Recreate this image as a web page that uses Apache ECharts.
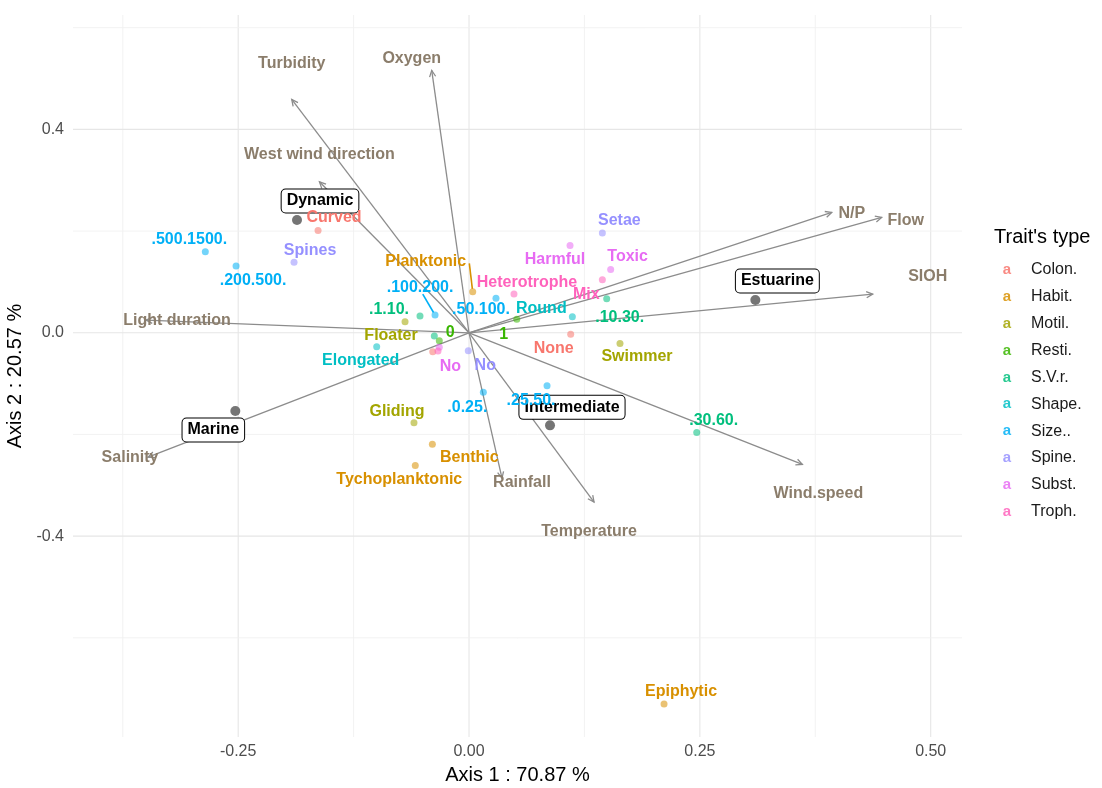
<!DOCTYPE html>
<html>
<head>
<meta charset="utf-8">
<script src="https://cdn.jsdelivr.net/npm/echarts@6/dist/echarts.min.js"></script>
<style>
  html, body { margin: 0; padding: 0; background: #ffffff; }
  #chart { width: 1102px; height: 788px; }
</style>
</head>
<body>
<div id="chart"></div>
<script>
// ---- Data -----------------------------------------------------------------

// Environmental variables: arrow tips on the first two axes
const envNames = ['Turbidity', 'Oxygen', 'West wind direction', 'N/P', 'Flow', 'SIOH',
  'Light duration', 'Salinity', 'Rainfall', 'Temperature', 'Wind.speed'];
const envAxis1 = [-0.192, -0.0404, -0.162, 0.3928, 0.4469, 0.4372, -0.3498, -0.3476, 0.0357, 0.1354, 0.361];
const envAxis2 = [0.459, 0.516, 0.297, 0.2368, 0.227, 0.0761, 0.025, -0.2445, -0.2858, -0.3329, -0.2589];

// Sites (habitat groups)
const siteNames = ['Dynamic', 'Estuarine', 'Marine', 'Intermediate'];
const siteAxis1 = [-0.1863, 0.3101, -0.2531, 0.0877];
const siteAxis2 = [0.2217, 0.0643, -0.154, -0.1821];

// Trait modalities
const traitTypes = ['Colon.', 'Habit.', 'Motil.', 'Resti.', 'S.V.r.', 'Shape.', 'Size..', 'Spine.', 'Subst.', 'Troph.'];
const traitNames = [
  'Curved', 'None', '',
  'Planktonic', 'Benthic', 'Tychoplanktonic', 'Epiphytic',
  'Floater', 'Gliding', 'Swimmer',
  '0', '1',
  '.1.10.', '.10.30.', '.30.60.', '',
  'Elongated', 'Round',
  '.500.1500.', '.200.500.', '.100.200.', '.50.100.', '.25.50.', '.0.25.',
  'Setae', 'Spines', 'No',
  'Harmful', 'Toxic', 'No',
  'Heterotrophe', 'Mix', ''
];
const traitType = [
  'Colon.', 'Colon.', 'Colon.',
  'Habit.', 'Habit.', 'Habit.', 'Habit.',
  'Motil.', 'Motil.', 'Motil.',
  'Resti.', 'Resti.',
  'S.V.r.', 'S.V.r.', 'S.V.r.', 'S.V.r.',
  'Shape.', 'Shape.',
  'Size..', 'Size..', 'Size..', 'Size..', 'Size..', 'Size..',
  'Spine.', 'Spine.', 'Spine.',
  'Subst.', 'Subst.', 'Subst.',
  'Troph.', 'Troph.', 'Troph.'
];
const traitAxis1 = [
  -0.1635, 0.1101, -0.0393,
  0.004, -0.0397, -0.0582, 0.2112,
  -0.0693, -0.0596, 0.1635,
  -0.0322, 0.0517,
  -0.0531, 0.1491, 0.2466, -0.0376,
  -0.1, 0.1119,
  -0.2856, -0.2523, -0.0368, 0.0292, 0.0845, 0.0155,
  0.1444, -0.1895, -0.0008,
  0.1094, 0.1534, -0.0322,
  0.0487, 0.1444, -0.0336
];
const traitAxis2 = [
  0.2012, -0.0031, -0.0374,
  0.0806, -0.219, -0.2608, -0.7303,
  0.0216, -0.177, -0.0209,
  -0.0157, 0.0264,
  0.0328, 0.0669, -0.1959, -0.0065,
  -0.0275, 0.0315,
  0.1593, 0.1312, 0.0348, 0.0677, -0.1042, -0.1172,
  0.1961, 0.1385, -0.0354,
  0.1719, 0.1247, -0.0287,
  0.0761, 0.1043, -0.0358
];

// Axis ticks and grid
const xTickValues = [-0.25, 0, 0.25, 0.5];
const xMinorValues = [-0.375, -0.125, 0.125, 0.375];
const yTickValues = [-0.4, 0, 0.4];
const yMinorValues = [-0.6, -0.2, 0.2, 0.6];
const xTitle = 'Axis 1 : 70.87 %';
const yTitle = 'Axis 2 : 20.57 %';
const legendTitle = "Trait's type";

// ---- Styling & label layout --------------------------------------------------

const FONT = '"Liberation Sans", Arial, Helvetica, sans-serif';
const typeColors = ['#F8766D', '#D89000', '#A3A500', '#39B600', '#00BF7D',
  '#00BFC4', '#00B0F6', '#9590FF', '#E76BF3', '#FF62BC'];
const colorOf = t => typeColors[traitTypes.indexOf(t)];
const envTextColor = '#8b7d6b';
const arrowColor = '#8c8c8c';

// Repelled label offsets in pixels (label centre relative to its point)
const traitLabelShift = [
  [16, -13], [-17, 14], null,
  [-47, -30], [37, 13], [-16, 14], [17, -13],
  [-14, 14], [-17, -11], [17, 13],
  [11, -8], [-13, 15],
  [-31, -7], [13, 19], [17, -12], null,
  [-16, 14], [-31, -8],
  [-16, -12], [17, 15], [-15, -27], [-15, 11], [-16, 15], [-16, 15],
  [17, -12], [16, -12], [17, 15],
  [-15, 14], [17, -13], [11, 19],
  [13, -11], [-16, 15], null
];
// Leader segments (start, relative to the point) for labels pushed far away
const traitLeader = { 3: [-3.4, -28.4], 20: [-12.3, -21] };
const envLabelShift = [[0, -36], [-20, -12], [0, -27], [20, 1], [24, 3], [55, -17],
  [31, 1], [-18, 0], [20, 4], [-5, 30], [16, 29]];
const siteLabelShift = [[23, -19], [22, -19], [-22, 19], [22, -18]];

// ---- Series -------------------------------------------------------------------

const gridData = [];
xTickValues.forEach(v => gridData.push([v, 0, 1, 0]));
xMinorValues.forEach(v => gridData.push([v, 0, 0, 0]));
yTickValues.forEach(v => gridData.push([0, v, 1, 1]));
yMinorValues.forEach(v => gridData.push([0, v, 0, 1]));

const gridSeries = {
  type: 'custom', silent: true, z: 1, clip: false,
  data: gridData,
  renderItem(params, api) {
    const cs = params.coordSys;
    const isY = api.value(3) === 1;
    const major = api.value(2) === 1;
    const style = { stroke: major ? '#e6e6e6' : '#f0f0f0', lineWidth: major ? 1.1 : 0.9 };
    if (isY) {
      const py = api.coord([0, api.value(1)])[1];
      return { type: 'line', shape: { x1: cs.x, y1: py, x2: cs.x + cs.width, y2: py }, style };
    }
    const px = api.coord([api.value(0), 0])[0];
    return { type: 'line', shape: { x1: px, y1: cs.y, x2: px, y2: cs.y + cs.height }, style };
  }
};

const arrowSeries = {
  type: 'custom', silent: true, z: 2, clip: false,
  data: envNames.map((n, i) => [envAxis1[i], envAxis2[i], i]),
  renderItem(params, api) {
    const p0 = api.coord([0, 0]);
    const p1 = api.coord([api.value(0), api.value(1)]);
    const ang = Math.atan2(p1[1] - p0[1], p1[0] - p0[0]);
    const L = 7, a = Math.PI / 7;
    const h1 = [p1[0] - L * Math.cos(ang - a), p1[1] - L * Math.sin(ang - a)];
    const h2 = [p1[0] - L * Math.cos(ang + a), p1[1] - L * Math.sin(ang + a)];
    const st = { stroke: arrowColor, lineWidth: 1.3, fill: null };
    return {
      type: 'group',
      children: [
        { type: 'line', shape: { x1: p0[0], y1: p0[1], x2: p1[0], y2: p1[1] }, style: st },
        { type: 'polyline', shape: { points: [h1, p1, h2] }, style: st }
      ]
    };
  }
};

const envLabelSeries = {
  type: 'custom', silent: true, z: 4, clip: false,
  data: envNames.map((n, i) => [envAxis1[i], envAxis2[i], i]),
  renderItem(params, api) {
    const i = api.value(2);
    const p = api.coord([api.value(0), api.value(1)]);
    const s = envLabelShift[i];
    return {
      type: 'text',
      style: {
        text: envNames[i], x: p[0] + s[0], y: p[1] + s[1],
        fill: envTextColor, font: 'bold 16px ' + FONT,
        align: 'center', verticalAlign: 'middle'
      }
    };
  }
};

const traitPointSeries = traitTypes.map(t => ({
  type: 'scatter', name: t, z: 3, silent: true,
  symbol: 'circle', symbolSize: 7,
  itemStyle: { color: colorOf(t), opacity: 0.55 },
  data: traitNames.map((n, i) => i).filter(i => traitType[i] === t)
    .map(i => [traitAxis1[i], traitAxis2[i]])
}));

// Site boxes sit under the trait labels
const siteLabelSeries = {
  type: 'custom', silent: true, z: 5, clip: false,
  data: siteNames.map((n, i) => [siteAxis1[i], siteAxis2[i], i]),
  renderItem(params, api) {
    const i = api.value(2);
    const p = api.coord([api.value(0), api.value(1)]);
    const s = siteLabelShift[i];
    return {
      type: 'text',
      style: {
        text: siteNames[i], x: p[0] + s[0], y: p[1] + s[1],
        fill: '#000000', font: 'bold 16px ' + FONT,
        align: 'center', verticalAlign: 'middle',
        backgroundColor: '#ffffff', borderColor: '#000000', borderWidth: 1,
        borderRadius: 4, padding: [4, 5, 3, 5]
      }
    };
  }
};

const traitLabelSeries = {
  type: 'custom', silent: true, z: 6, clip: false,
  data: traitNames.map((n, i) => [traitAxis1[i], traitAxis2[i], i]),
  renderItem(params, api) {
    const i = api.value(2);
    const s = traitLabelShift[i];
    if (!traitNames[i] || !s) return null;
    const p = api.coord([api.value(0), api.value(1)]);
    const col = colorOf(traitType[i]);
    const children = [{
      type: 'text',
      style: {
        text: traitNames[i], x: p[0] + s[0], y: p[1] + s[1],
        fill: col, font: 'bold 16px ' + FONT,
        align: 'center', verticalAlign: 'middle'
      }
    }];
    const lead = traitLeader[i];
    if (lead) {
      const dx = -lead[0], dy = -lead[1];
      const len = Math.hypot(dx, dy);
      children.push({
        type: 'line',
        shape: { x1: p[0] + lead[0], y1: p[1] + lead[1],
          x2: p[0] - 3 * dx / len, y2: p[1] - 3 * dy / len },
        style: { stroke: col, lineWidth: 1.6 }
      });
    }
    return { type: 'group', children };
  }
};

const sitePointSeries = {
  type: 'scatter', z: 3, silent: true, symbol: 'circle', symbolSize: 10,
  itemStyle: { color: '#6e6e6e', opacity: 0.95 },
  data: siteNames.map((n, i) => [siteAxis1[i], siteAxis2[i]])
};

// ---- Legend ---------------------------------------------------------------------

const legendElements = [{
  type: 'text', x: 994, y: 237,
  style: { text: legendTitle, font: '20px ' + FONT, fill: '#000000', align: 'left', verticalAlign: 'middle' }
}];
traitTypes.forEach((t, i) => {
  const y = 270 + i * 26.85;
  legendElements.push({
    type: 'text', x: 1007, y,
    style: { text: 'a', font: 'bold 15px ' + FONT, fill: typeColors[i], opacity: 0.85, align: 'center', verticalAlign: 'middle' }
  });
  legendElements.push({
    type: 'text', x: 1031, y,
    style: { text: t, font: '16px ' + FONT, fill: '#1a1a1a', align: 'left', verticalAlign: 'middle' }
  });
});

// ---- Chart ------------------------------------------------------------------------

const chart = echarts.init(document.getElementById('chart'), null, { renderer: 'canvas' });
chart.setOption({
  animation: false,
  backgroundColor: '#ffffff',
  grid: { left: 73, right: 140, top: 15, bottom: 51, containLabel: false, outerBoundsMode: 'none' },
  xAxis: {
    type: 'value', min: -0.4289, max: 0.5339,
    axisLine: { show: false }, axisTick: { show: false }, splitLine: { show: false },
    axisLabel: {
      customValues: xTickValues, margin: 7, color: '#4d4d4d', fontSize: 16, fontFamily: FONT,
      formatter: v => v.toFixed(2)
    },
    name: xTitle, nameLocation: 'middle', nameGap: 28,
    nameTextStyle: { color: '#000000', fontSize: 20, fontFamily: FONT }
  },
  yAxis: {
    type: 'value', min: -0.795, max: 0.625,
    axisLine: { show: false }, axisTick: { show: false }, splitLine: { show: false },
    axisLabel: {
      customValues: yTickValues, margin: 9, color: '#4d4d4d', fontSize: 16, fontFamily: FONT,
      formatter: v => v.toFixed(1)
    },
    name: yTitle, nameLocation: 'middle', nameGap: 41, nameRotate: 90,
    nameTextStyle: { color: '#000000', fontSize: 20, fontFamily: FONT }
  },
  graphic: { elements: legendElements },
  series: [gridSeries, arrowSeries, ...traitPointSeries, sitePointSeries,
    envLabelSeries, siteLabelSeries, traitLabelSeries]
});
</script>
</body>
</html>
